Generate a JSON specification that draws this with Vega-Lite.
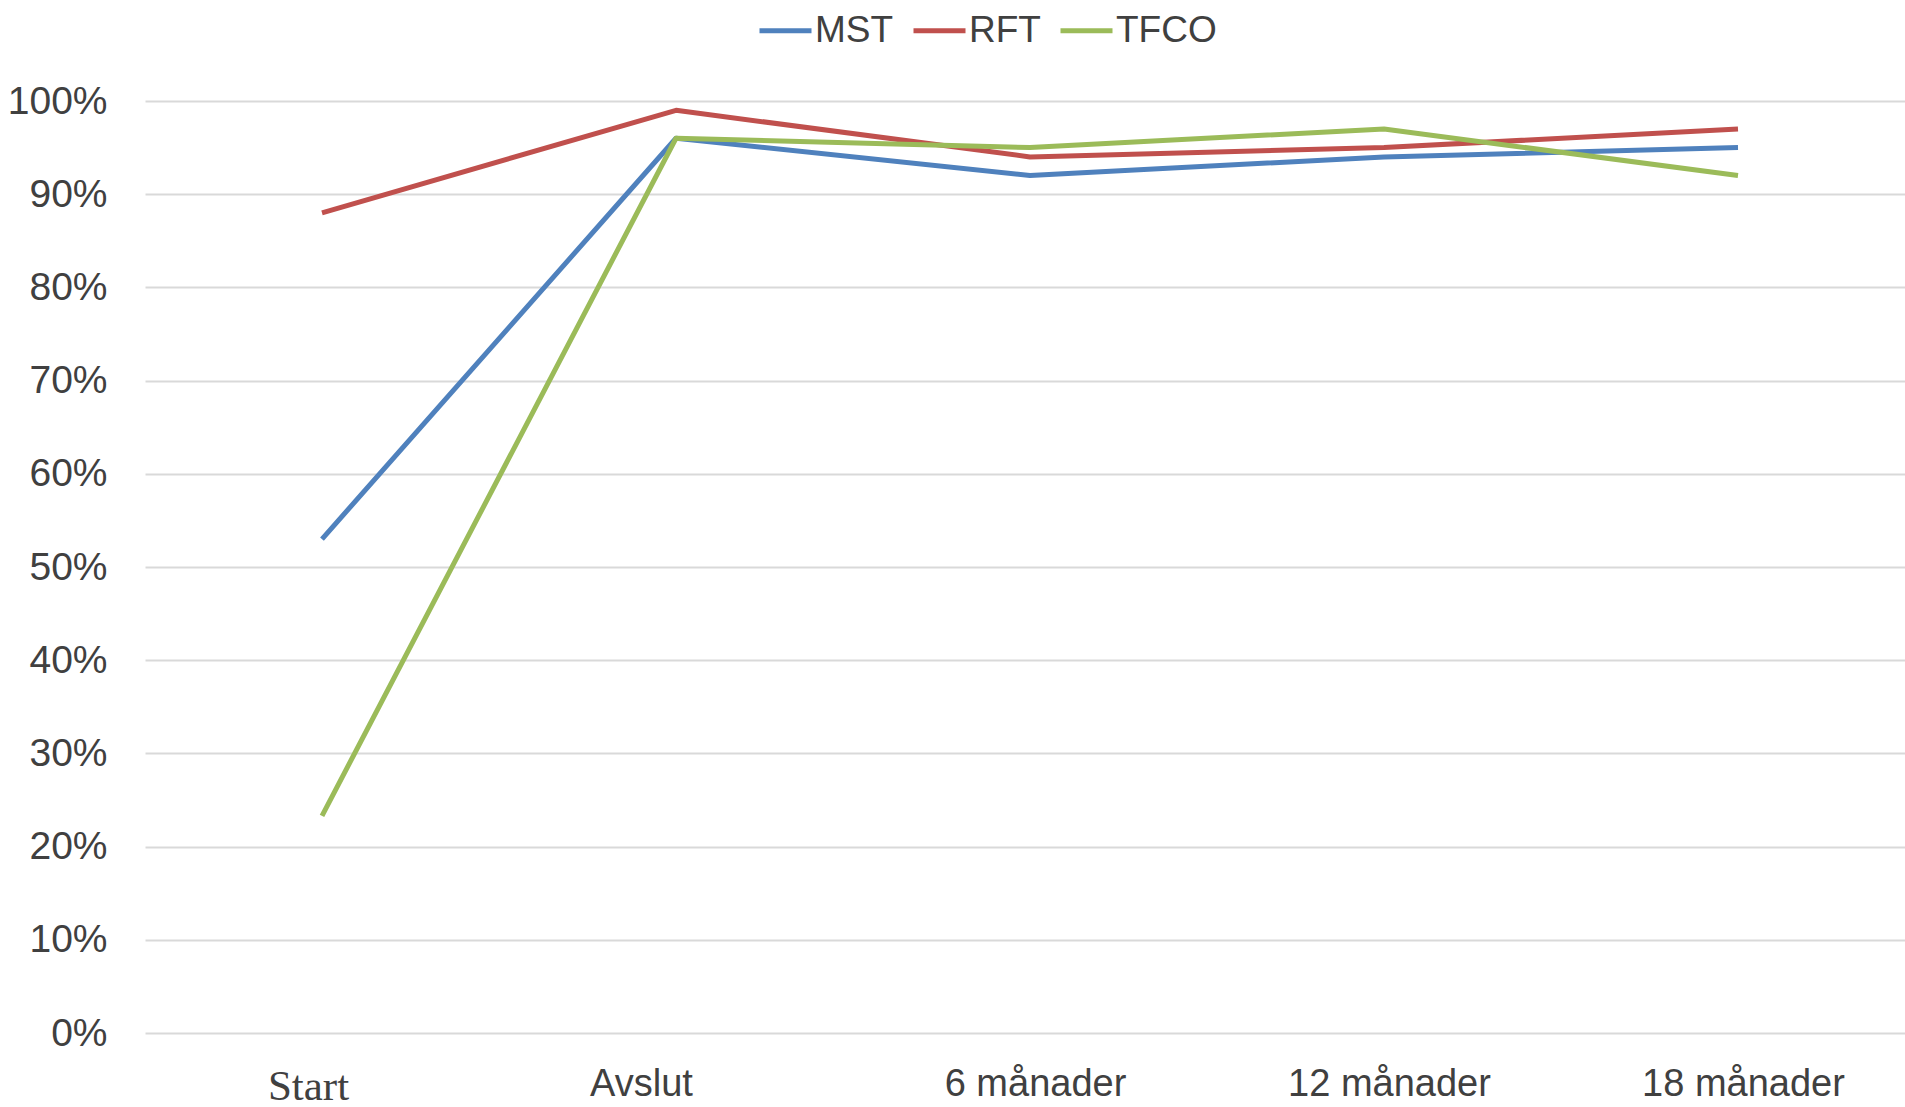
{
  "$schema": "https://vega.github.io/schema/vega-lite/v6.json",
  "width": 1770,
  "height": 932,
  "autosize": {"type": "none"},
  "padding": {"left": 145, "top": 101, "right": 0, "bottom": 74},
  "background": "white",
  "config": {"view": {"stroke": null}},
  "data": {
    "values": [
      {"period": "Start", "group": "MST", "value": 0.53},
      {"period": "Avslut", "group": "MST", "value": 0.96},
      {"period": "6 månader", "group": "MST", "value": 0.92},
      {"period": "12 månader", "group": "MST", "value": 0.94},
      {"period": "18 månader", "group": "MST", "value": 0.95},
      {"period": "Start", "group": "RFT", "value": 0.88},
      {"period": "Avslut", "group": "RFT", "value": 0.99},
      {"period": "6 månader", "group": "RFT", "value": 0.94},
      {"period": "12 månader", "group": "RFT", "value": 0.95},
      {"period": "18 månader", "group": "RFT", "value": 0.97},
      {"period": "Start", "group": "TFCO", "value": 0.233},
      {"period": "Avslut", "group": "TFCO", "value": 0.96},
      {"period": "6 månader", "group": "TFCO", "value": 0.95},
      {"period": "12 månader", "group": "TFCO", "value": 0.97},
      {"period": "18 månader", "group": "TFCO", "value": 0.92}
    ]
  },
  "mark": {"type": "line", "strokeWidth": 5, "strokeCap": "butt", "strokeJoin": "round"},
  "encoding": {
    "x": {
      "field": "period",
      "type": "ordinal",
      "sort": ["Start", "Avslut", "6 månader", "12 månader", "18 månader"],
      "scale": {"type": "point", "padding": 0.5},
      "axis": {
        "title": null,
        "domain": false,
        "ticks": false,
        "grid": false,
        "labelAngle": 0,
        "labelLimit": 400,
        "labelFontSize": {"condition": {"test": "datum.value === 'Start'", "value": 43}, "value": 38},
        "labelFont": {"condition": {"test": "datum.value === 'Start'", "value": "Liberation Serif"}, "value": "Liberation Sans"},
        "labelOffset": {"condition": [{"test": "datum.value === 'Start'", "value": -14}, {"test": "datum.value === 'Avslut'", "value": -35}], "value": 5},
        "labelColor": "#404040",
        "labelPadding": 32
      }
    },
    "y": {
      "field": "value",
      "type": "quantitative",
      "scale": {"domain": [0, 1], "nice": false},
      "axis": {
        "title": null,
        "domain": false,
        "ticks": false,
        "grid": true,
        "gridColor": "#D9D9D9",
        "gridWidth": 2,
        "values": [0, 0.1, 0.2, 0.3, 0.4, 0.5, 0.6, 0.7, 0.8, 0.9, 1],
        "format": ".0%",
        "labelFontSize": 39,
        "labelFont": "Liberation Sans",
        "labelColor": "#404040",
        "labelPadding": 38
      }
    },
    "color": {
      "field": "group",
      "type": "nominal",
      "scale": {"domain": ["MST", "RFT", "TFCO"], "range": ["#4F81BD", "#C0504D", "#9BBB59"]},
      "legend": {
        "title": null,
        "orient": "none",
        "direction": "horizontal",
        "legendX": 612,
        "legendY": -99,
        "symbolType": "stroke",
        "symbolSize": 2704,
        "symbolStrokeWidth": 5,
        "labelFontSize": 37,
        "labelFont": "Liberation Sans",
        "labelColor": "#404040",
        "labelOffset": 1,
        "columnPadding": 9
      }
    }
  }
}
